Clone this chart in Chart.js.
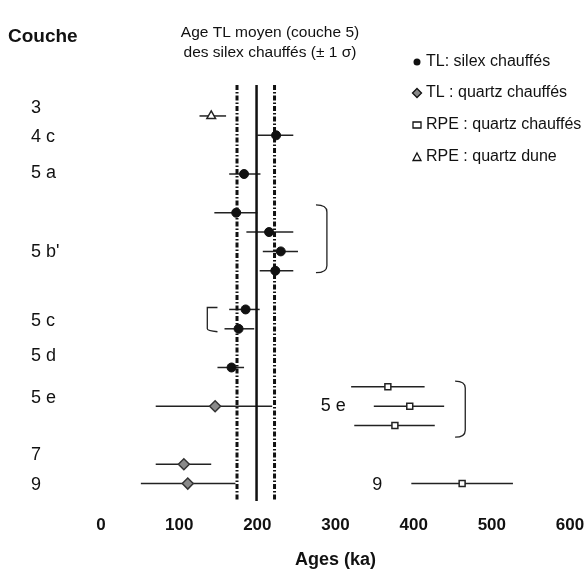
<!DOCTYPE html>
<html>
<head>
<meta charset="utf-8">
<script src="https://cdn.jsdelivr.net/npm/chart.js@4.4.1/dist/chart.umd.min.js"></script>
<style>
    html, body { margin: 0; padding: 0; background: #fff; }
    #wrap { width: 586px; height: 574px; }
</style>
</head>
<body>
<div id="wrap"><canvas id="grafico"></canvas></div>
<script>
// couches (libellés à gauche) et leur position en "rangs"
var couches = ['3', '4 c', '5 a', "5 b'", '5 c', '5 d', '5 e', '7', '9'];
var couchesRangs = [-0.4, 1.1, 2.95, 7.05, 10.6, 12.4, 14.6, 17.5, 19.05];

// TL : silex chauffés
var silexRangs = [1, 3, 5, 6, 7, 8, 10, 11, 13];
var silexAges = [224, 183, 173, 215, 230, 223, 185, 176, 167];
var silexMin = [200, 164, 145, 186, 207, 203, 164, 158, 149];
var silexMax = [246, 204, 200, 246, 252, 246, 203, 196, 183];

// TL : quartz chauffés
var quartzRangs = [15, 18, 19];
var quartzAges = [146, 106, 111];
var quartzMin = [70, 70, 51];
var quartzMax = [219, 141, 172];

// RPE : quartz chauffés
var rpeRangs = [14, 15, 16, 19];
var rpeAges = [367, 395, 376, 462];
var rpeMin = [320, 349, 324, 397];
var rpeMax = [414, 439, 427, 527];

// RPE : quartz dune
var duneRangs = [0];
var duneAges = [141];
var duneMin = [126];
var duneMax = [160];

// age moyen TL couche 5 et +/- 1 sigma
var ageMoyen = 199;
var sigma = [174, 222];
var ticksAges = [0, 100, 200, 300, 400, 500, 600];

var yMin = -1.6, yMax = 19.9;

function pts(rangs, ages) {
    return ages.map(function (a, i) { return { x: a, y: rangs[i] }; });
}
function verticale(x) {
    return [{ x: x, y: yMin }, { x: x, y: yMax }];
}

var barres = [
    [silexRangs, silexMin, silexMax],
    [quartzRangs, quartzMin, quartzMax],
    [rpeRangs, rpeMin, rpeMax],
    [duneRangs, duneMin, duneMax]
];

var police = '"Liberation Sans", Arial, sans-serif';

var decor = {
    id: 'decor',
    beforeDatasetsDraw: function (chart) {
        var ctx = chart.ctx, xs = chart.scales.x, ys = chart.scales.y;
        ctx.save();
        ctx.strokeStyle = '#222';
        ctx.lineWidth = 1.5;
        barres.forEach(function (b) {
            b[0].forEach(function (r, i) {
                var y = ys.getPixelForValue(r);
                ctx.beginPath();
                ctx.moveTo(xs.getPixelForValue(b[1][i]), y);
                ctx.lineTo(xs.getPixelForValue(b[2][i]), y);
                ctx.stroke();
            });
        });
        ctx.restore();
    },
    afterDraw: function (chart) {
        var ctx = chart.ctx, xs = chart.scales.x, ys = chart.scales.y;
        ctx.save();
        ctx.fillStyle = '#111';
        ctx.textBaseline = 'middle';

        ctx.font = 'bold 19px ' + police;
        ctx.textAlign = 'left';
        ctx.fillText('Couche', 8, 37);

        ctx.font = '18px ' + police;
        couches.forEach(function (c, i) {
            ctx.fillText(c, 31, ys.getPixelForValue(couchesRangs[i]));
        });

        ctx.textAlign = 'center';
        ctx.font = '15.5px ' + police;
        ctx.fillText('Age TL moyen (couche 5)', 270, 33);
        ctx.fillText('des silex chauffés (± 1 σ)', 270, 53);

        // légende
        var lx = 417;
        var leg = [
            ['rond', 'TL: silex chauffés', 62],
            ['losange', 'TL : quartz chauffés', 93],
            ['carre', 'RPE : quartz chauffés', 125],
            ['triangle', 'RPE : quartz dune', 157]
        ];
        ctx.textAlign = 'left';
        leg.forEach(function (l) {
            var y = l[2];
            ctx.lineWidth = 1.3;
            ctx.strokeStyle = '#111';
            ctx.beginPath();
            if (l[0] === 'rond') {
                ctx.arc(lx, y, 3.5, 0, Math.PI * 2);
                ctx.fillStyle = '#111';
                ctx.fill();
            } else if (l[0] === 'losange') {
                ctx.moveTo(lx, y - 4.5); ctx.lineTo(lx + 4.5, y); ctx.lineTo(lx, y + 4.5); ctx.lineTo(lx - 4.5, y); ctx.closePath();
                ctx.fillStyle = '#888';
                ctx.fill(); ctx.stroke();
            } else if (l[0] === 'carre') {
                ctx.rect(lx - 4, y - 3, 8, 6);
                ctx.stroke();
            } else {
                ctx.moveTo(lx, y - 4); ctx.lineTo(lx + 4, y + 3.5); ctx.lineTo(lx - 4, y + 3.5); ctx.closePath();
                ctx.stroke();
            }
            ctx.fillStyle = '#111';
            ctx.font = '16px ' + police;
            ctx.fillText(l[1], lx + 9, y);
        });

        // accolades
        ctx.strokeStyle = '#222';
        ctx.lineWidth = 1.3;
        function accoladeDroite(x1, x2, r1, r2) {
            var a = xs.getPixelForValue(x1), b = xs.getPixelForValue(x2);
            var t = ys.getPixelForValue(r1), u = ys.getPixelForValue(r2);
            ctx.beginPath();
            ctx.moveTo(a, t);
            ctx.quadraticCurveTo(b, t, b, t + 7);
            ctx.lineTo(b, u - 7);
            ctx.quadraticCurveTo(b, u, a, u);
            ctx.stroke();
        }
        accoladeDroite(275, 289, 4.6, 8.1);
        accoladeDroite(453, 466, 13.7, 16.6);
        var a = xs.getPixelForValue(149), b = xs.getPixelForValue(136);
        var t = ys.getPixelForValue(9.9), u = ys.getPixelForValue(11.1);
        ctx.beginPath();
        ctx.moveTo(a, t); ctx.lineTo(b, t); ctx.lineTo(b, u - 2);
        ctx.quadraticCurveTo(b, u, a, u + 1);
        ctx.stroke();

        ctx.fillStyle = '#111';
        ctx.font = '18px ' + police;
        ctx.textAlign = 'left';
        ctx.fillText('5 e', xs.getPixelForValue(281), ys.getPixelForValue(15));
        ctx.fillText('9', xs.getPixelForValue(347), ys.getPixelForValue(19.05));
        ctx.restore();
    }
};

var ctx = document.getElementById('grafico').getContext('2d');
var grafico = new Chart(ctx, {
    data: {
        datasets: [
            {
                type: 'line', data: verticale(ageMoyen), borderColor: '#111', borderWidth: 2.5,
                pointRadius: 0, order: 5
            },
            {
                type: 'line', data: verticale(sigma[0]), borderColor: '#111', borderWidth: 3,
                borderDash: [5, 2, 1.5, 2], pointRadius: 0, order: 5
            },
            {
                type: 'line', data: verticale(sigma[1]), borderColor: '#111', borderWidth: 3,
                borderDash: [5, 2, 1.5, 2], pointRadius: 0, order: 5
            },
            {
                type: 'scatter', label: 'TL: silex chauffés', data: pts(silexRangs, silexAges),
                pointStyle: 'circle', pointRadius: 4.5, backgroundColor: '#111', borderColor: '#111', order: 1
            },
            {
                type: 'scatter', label: 'TL : quartz chauffés', data: pts(quartzRangs, quartzAges),
                pointStyle: 'rectRot', pointRadius: 5.5, backgroundColor: '#8a8a8a', borderColor: '#333',
                borderWidth: 1.5, order: 1
            },
            {
                type: 'scatter', label: 'RPE : quartz chauffés', data: pts(rpeRangs, rpeAges),
                pointStyle: 'rect', pointRadius: 4.2, backgroundColor: '#fff', borderColor: '#222',
                borderWidth: 1.5, order: 1
            },
            {
                type: 'scatter', label: 'RPE : quartz dune', data: pts(duneRangs, duneAges),
                pointStyle: 'triangle', pointRadius: 5, backgroundColor: '#fff', borderColor: '#222',
                borderWidth: 1.5, order: 1
            }
        ]
    },
    options: {
        responsive: true,
        maintainAspectRatio: false,
        animation: false,
        layout: { padding: { left: 101, right: 0, top: 85, bottom: 0 } },
        scales: {
            x: {
                type: 'linear', min: 0, max: 600,
                afterBuildTicks: function (s) { s.ticks = ticksAges.map(function (v) { return { value: v }; }); },
                afterFit: function (s) { s.paddingRight = 16; },
                ticks: { font: { family: police, size: 17, weight: 'bold' }, color: '#111', padding: 14 },
                grid: { display: false, drawTicks: false },
                border: { display: false },
                title: {
                    display: true, text: 'Ages (ka)', color: '#111',
                    font: { family: police, size: 18, weight: 'bold' },
                    padding: { top: 0, bottom: 3 }
                }
            },
            y: { type: 'linear', min: yMin, max: yMax, reverse: true, display: false }
        },
        plugins: {
            legend: { display: false },
            tooltip: { enabled: false }
        }
    },
    plugins: [decor]
});
</script>
</body>
</html>
